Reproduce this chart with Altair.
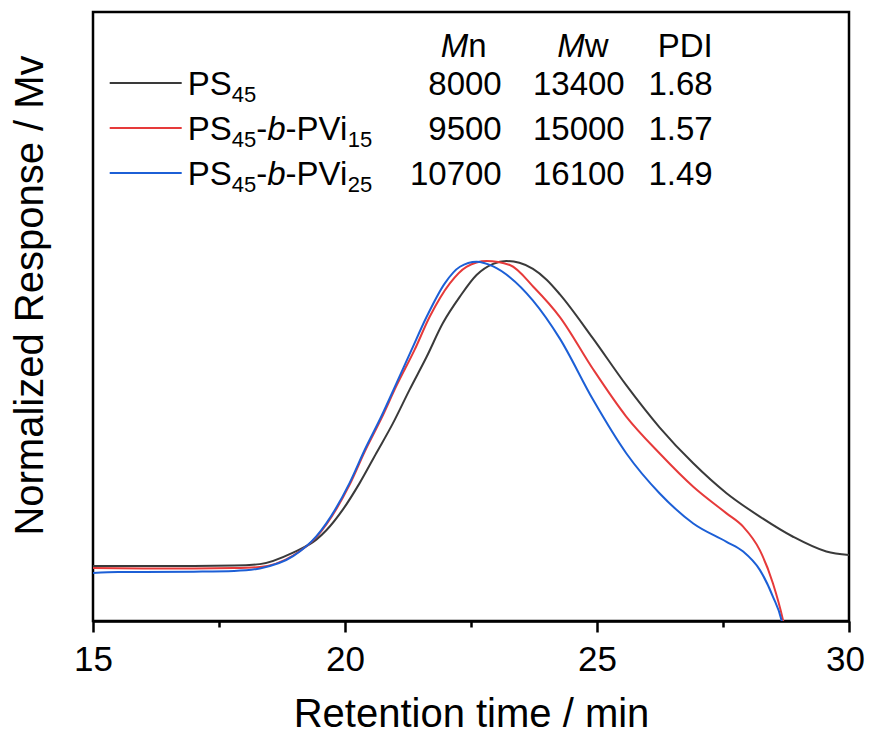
import altair as alt
import pandas as pd

# ---------------- data ----------------
series_names = ["PS45", "PS45-b-PVi15", "PS45-b-PVi25"]

ps45_t = [15.0, 16.0, 17.0, 17.8, 18.31, 18.97, 19.43, 19.63, 19.96, 20.29, 20.62, 20.95, 21.28, 21.62,
          21.94, 22.28, 22.61, 22.94, 23.2, 23.46, 23.73, 24.0, 24.26, 24.92, 25.58, 26.24, 26.91,
          27.57, 28.23, 28.89, 29.55, 30.0]
ps45_r = [0.153, 0.153, 0.153, 0.154, 0.158, 0.19, 0.226, 0.252, 0.310, 0.383, 0.466, 0.549, 0.642, 0.734,
          0.827, 0.901, 0.961, 0.992, 1.0, 0.995, 0.978, 0.948, 0.908, 0.785, 0.655, 0.538, 0.438,
          0.355, 0.290, 0.234, 0.193, 0.183]

pvi15_t = [15.0, 16.0, 17.0, 17.8, 18.31, 18.97, 19.43, 20.09, 20.39, 20.72, 21.02, 21.38, 21.68, 22.08,
           22.41, 22.81, 23.27, 23.76, 24.26, 24.92, 25.58, 26.24, 26.91, 27.57, 27.90, 28.23, 28.49,
           28.69, 28.74]
pvi15_r = [0.147, 0.146, 0.146, 0.147, 0.150, 0.182, 0.233, 0.378, 0.470, 0.562, 0.653, 0.753, 0.845, 0.938,
           0.984, 1.0, 0.989, 0.925, 0.845, 0.700, 0.568, 0.466, 0.373, 0.299, 0.262, 0.197, 0.105,
           0.003, -0.03]

pvi25_t = [15.0, 15.5, 16.0, 17.0, 17.8, 18.31, 18.97, 19.43, 20.09, 20.39, 20.72, 21.02, 21.32, 21.62,
           21.98, 22.28, 22.61, 22.94, 23.27, 23.73, 24.26, 24.92, 25.58, 26.24, 26.91, 27.57, 27.90,
           28.23, 28.49, 28.66, 28.71]
pvi25_r = [0.133, 0.136, 0.136, 0.137, 0.139, 0.146, 0.180, 0.235, 0.383, 0.475, 0.568, 0.660, 0.753, 0.845,
           0.938, 0.984, 0.998, 0.985, 0.955, 0.890, 0.785, 0.615, 0.466, 0.355, 0.271, 0.220, 0.193,
           0.142, 0.068, 0.003, -0.03]

table_headers = ["Mn", "Mw", "PDI"]
mn_values = ["8000", "9500", "10700"]
mw_values = ["13400", "15000", "16100"]
pdi_values = ["1.68", "1.57", "1.49"]

colors = ["#3a3a3a", "#e63a3a", "#1c5fd6"]

x_ticks = [15, 17.5, 20, 22.5, 25, 27.5, 30]

# ---------------- layout ----------------
W, H = 756, 609
X0, X1 = 15.0, 30.0
Y_TOP = 609 / 360.0
FONT = "Liberation Sans"
FS, SUB = 33, 22


def px2x(px):
    return X0 + (px - 93.3) / W * (X1 - X0)


def py2y(py):
    return (621.0 - py) / 360.0


# Arial / Liberation Sans advance widths (per 1000 em)
ADV = {"P": 667, "S": 667, "-": 333, "b": 556, "V": 667, "i": 222, "M": 833, "n": 556,
       "w": 722, "D": 722, "I": 278, ".": 278}
for d in "0123456789":
    ADV[d] = 556


def width(s, size):
    return sum(ADV[c] for c in s) * size / 1000.0


curve_rows = []
for name, ts, rs in zip(series_names, [ps45_t, pvi15_t, pvi25_t], [ps45_r, pvi15_r, pvi25_r]):
    for t, r in zip(ts, rs):
        curve_rows.append({"t": t, "r": r, "s": name})
curves = pd.DataFrame(curve_rows)

x_scale = alt.Scale(domain=[X0, X1], nice=False, zero=False)
y_scale = alt.Scale(domain=[0, Y_TOP], nice=False, zero=False)

lines = alt.Chart(curves).mark_line(strokeWidth=2, interpolate="monotone", clip=True).encode(
    x=alt.X("t:Q", scale=x_scale, title="Retention time / min",
            axis=alt.Axis(orient="bottom", values=x_ticks, grid=False, domain=True, domainColor="black",
                          domainWidth=2.5, ticks=True, tickColor="black", tickWidth=2.5,
                          tickSize=alt.condition("datum.value % 5 === 0", alt.value(11), alt.value(6)),
                          labelExpr="datum.value % 5 === 0 ? datum.label : ''",
                          labelOffset=alt.condition("datum.value === 30", alt.value(-4), alt.value(0)),
                          labelFont=FONT, labelFontSize=35, labelColor="black",
                          labelBaseline="alphabetic", labelPadding=38, labelFlush=False,
                          titleFont=FONT, titleFontSize=40, titleFontWeight="normal", titleColor="black",
                          titleBaseline="alphabetic", titleX=378, titleY=105, titleAnchor="middle")),
    y=alt.Y("r:Q", scale=y_scale, title="Normalized Response / Mv",
            axis=alt.Axis(orient="left", labels=False, ticks=False, grid=False, domain=False,
                          titleFont=FONT, titleFontSize=40, titleFontWeight="normal", titleColor="black",
                          titleAngle=270, titleBaseline="alphabetic", titleAlign="center",
                          titleX=-51, titleY=283)),
    color=alt.Color("s:N", scale=alt.Scale(domain=series_names, range=colors), legend=None),
    detail="s:N",
)

# ---------------- legend / table ----------------
row_base = [95, 140, 185]
name_x0 = 188
sub_drop = 7
leg_rows, main_rows, ital_rows, sub_rows, num_rows = [], [], [], [], []
sub_labels = [None, "15", "25"]
for i, name in enumerate(series_names):
    yb = row_base[i]
    ly = yb - 12
    leg_rows.append({"x": px2x(110), "x2": px2x(182), "y": py2y(ly), "s": name})
    if i == 0:
        pieces = [("PS", "n"), ("45", "sub")]
    else:
        pieces = [("PS", "n"), ("45", "sub"), ("-", "n"), ("b", "i"), ("-PVi", "n"), (sub_labels[i], "sub")]
    cx = name_x0
    for txt, kind in pieces:
        if kind == "sub":
            sub_rows.append({"x": px2x(cx), "y": py2y(yb + sub_drop), "txt": txt})
            cx += width(txt, SUB)
        elif kind == "i":
            ital_rows.append({"x": px2x(cx), "y": py2y(yb), "txt": txt})
            cx += width(txt, FS)
        else:
            main_rows.append({"x": px2x(cx), "y": py2y(yb), "txt": txt})
            cx += width(txt, FS)
    for col_right, vals in zip([502, 625, 713], [mn_values, mw_values, pdi_values]):
        num_rows.append({"x": px2x(col_right), "y": py2y(yb), "txt": vals[i]})

# headers
hb = 57
for hdr, start in zip(table_headers[:2], [441, 557.5]):
    ital_rows.append({"x": px2x(start), "y": py2y(hb), "txt": hdr[0]})
    main_rows.append({"x": px2x(start + width(hdr[0], FS)), "y": py2y(hb), "txt": hdr[1:]})
num_rows.append({"x": px2x(713), "y": py2y(hb), "txt": table_headers[2]})

leg = alt.Chart(pd.DataFrame(leg_rows)).mark_rule(strokeWidth=2).encode(
    x=alt.X("x:Q", scale=x_scale, axis=None), x2="x2:Q",
    y=alt.Y("y:Q", scale=y_scale, axis=None),
    color=alt.Color("s:N", scale=alt.Scale(domain=series_names, range=colors), legend=None),
)


def text_layer(rows, size, align, style="normal"):
    return alt.Chart(pd.DataFrame(rows)).mark_text(
        font=FONT, fontSize=size, align=align, baseline="alphabetic", fontStyle=style, color="black"
    ).encode(
        x=alt.X("x:Q", scale=x_scale, axis=None),
        y=alt.Y("y:Q", scale=y_scale, axis=None),
        text="txt:N",
    )


chart = alt.layer(
    lines,
    leg,
    text_layer(main_rows, FS, "left"),
    text_layer(ital_rows, FS, "left", "italic"),
    text_layer(sub_rows, SUB, "left"),
    text_layer(num_rows, FS, "right"),
).resolve_axis(
    x="independent", y="independent"
).properties(
    width=W, height=H,
    autosize=alt.AutoSizeParams(type="none"),
    padding={"left": 85, "top": 4, "right": 16, "bottom": 106},
    background="white",
).configure_view(
    stroke="black", strokeWidth=2.5
)

chart.save("out.html", embed_options={"renderer": "svg", "actions": False})
